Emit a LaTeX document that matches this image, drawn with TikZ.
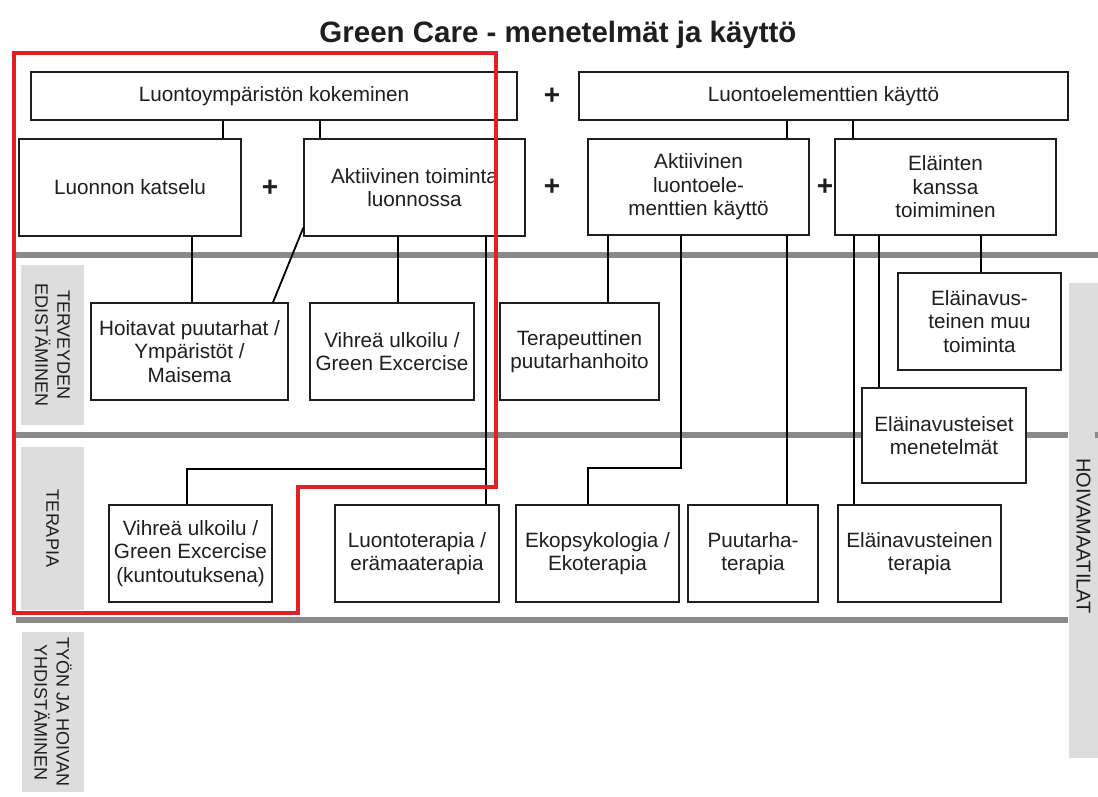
\documentclass[tikz,border=0pt]{standalone}
\usepackage{fontspec}
\setmainfont{Liberation Sans}
\usetikzlibrary{calc}
\definecolor{bandgray}{RGB}{138,138,138}
\definecolor{labgray}{RGB}{221,221,221}
\definecolor{redline}{RGB}{226,30,38}
\definecolor{ink}{RGB}{30,30,30}
\begin{document}
\begin{tikzpicture}[x=1pt,y=-1pt,
  box/.style={draw=ink, line width=1.3pt, fill=white, align=center, inner sep=2pt,
              font=\fontsize{20.7}{23.5}\selectfont, text=ink},
  conn/.style={draw=black, line width=1.8pt},
  band/.style={draw=bandgray, line width=6pt},
  sidelab/.style={fill=labgray, rotate=-90, align=center, inner sep=0pt,
                  font=\fontsize{18}{22}\selectfont, text=ink},
  plussign/.style={font=\bfseries\fontsize{28}{28}\selectfont, text=ink},
  redframe/.style={draw=redline, line width=4pt, line join=miter}]

\useasboundingbox (0,0) rectangle (1098,796);
\fill[white] (0,0) rectangle (1098,796);

% title
\node[anchor=base, font=\bfseries\fontsize{29.5}{32}\selectfont, text=ink] (title) at (558,42)
  {Green Care - menetelmät ja käyttö};

% side labels
\node[sidelab, minimum width=160, minimum height=63] (s1) at (52.5,345) {TERVEYDEN\\EDISTÄMINEN};
\node[sidelab, minimum width=163, minimum height=63] (s2) at (52.5,528.5) {TERAPIA};
\node[sidelab, minimum width=160, minimum height=62] (s3) at (53,712) {TYÖN JA HOIVAN\\YHDISTÄMINEN};
\fill[labgray] (1069,283) rectangle (1098,758);
\node[rotate=-90, font=\fontsize{20}{22}\selectfont, text=ink] (s4) at (1083.5,536) {HOIVAMAATILAT};

% bands
\draw[band] (16,255) -- (1098,255);
\draw[band] (16,435) -- (1068,435);
\draw[band] (1095,435) -- (1098,435);
\draw[band] (16,620) -- (1068,620);

% x positions of connectors
\coordinate (k223) at (223,0);
\coordinate (k320) at (320,0);
\coordinate (k787) at (787,0);
\coordinate (k853) at (853,0);
\coordinate (k192) at (192,0);
\coordinate (k273) at (273,0);
\coordinate (k398) at (398,0);
\coordinate (k486) at (486,0);
\coordinate (k187) at (187,0);
\coordinate (k608) at (608,0);
\coordinate (k681) at (681,0);
\coordinate (k854) at (854,0);
\coordinate (k879) at (879,0);
\coordinate (k981) at (981,0);
\coordinate (j1) at (486,469);
\coordinate (j2) at (588,468);

% boxes
\node[box, minimum width=486, minimum height=48] (A) at (274,96) {Luontoympäristön kokeminen};
\node[box, minimum width=489, minimum height=48] (B) at (823.5,96) {Luontoelementtien käyttö};
\node[box, minimum width=222, minimum height=97] (C) at (130,187.5) {Luonnon katselu};
\node[box, minimum width=221, minimum height=97] (D) at (414.5,187.5) {Aktiivinen toiminta\\luonnossa};
\node[box, minimum width=221, minimum height=96] (E) at (698.5,187) {Aktiivinen\\luontoele-\\menttien käyttö};
\node[box, minimum width=221, minimum height=96] (F) at (945.5,187) {Eläinten\\kanssa\\toimiminen};
\node[box, minimum width=197, minimum height=97] (G) at (189.5,351.5) {Hoitavat puutarhat /\\Ympäristöt /\\Maisema};
\node[box, minimum width=164, minimum height=97] (H) at (392,351.5) {Vihreä ulkoilu /\\Green Excercise};
\node[box, minimum width=159, minimum height=97] (I) at (579.5,351.5) {Terapeuttinen\\puutarhanhoito};
\node[box, minimum width=163, minimum height=97] (J) at (979.5,321.5) {Eläinavus-\\teinen muu\\toiminta};
\node[box, minimum width=164, minimum height=95] (K) at (944,435.5) {Eläinavusteiset\\menetelmät};
\node[box, minimum width=163, minimum height=97] (L) at (190.5,553.5) {Vihreä ulkoilu /\\Green Excercise\\(kuntoutuksena)};
\node[box, minimum width=164, minimum height=97] (M) at (417,553.5) {Luontoterapia /\\erämaaterapia};
\node[box, minimum width=163, minimum height=97] (N) at (597.5,553.5) {Ekopsykologia /\\Ekoterapia};
\node[box, minimum width=130, minimum height=97] (O) at (753,553.5) {Puutarha-\\terapia};
\node[box, minimum width=163, minimum height=97] (P) at (919.5,553.5) {Eläinavusteinen\\terapia};

% plus signs
\node[plussign] (p1) at (552,96) {+};
\node[plussign] (p2) at (270,188) {+};
\node[plussign] (p3) at (552,187) {+};
\node[plussign] (p4) at (825,187) {+};

% connectors
\draw[conn] (A.south -| k223) -- (C.north -| k223);
\draw[conn] (A.south -| k320) -- (D.north -| k320);
\draw[conn] (B.south -| k787) -- (E.north -| k787);
\draw[conn] (B.south -| k853) -- (F.north -| k853);
\draw[conn] (C.south -| k192) -- (G.north -| k192);
\draw[conn] ($(D.south west)+(0,-9)$) -- (G.north -| k273);
\draw[conn] (D.south -| k398) -- (H.north -| k398);
\draw[conn] (D.south -| k486) -- (M.north -| k486);
\draw[conn] (j1) -| (L.north -| k187);
\draw[conn] (E.south -| k608) -- (I.north -| k608);
\draw[conn] (E.south -| k681) |- (j2) -- (N.north -| j2);
\draw[conn] (E.south -| k787) -- (O.north -| k787);
\draw[conn] (F.south -| k854) -- (P.north -| k854);
\draw[conn] (F.south -| k879) -- (K.north -| k879);
\draw[conn] (F.south -| k981) -- (J.north -| k981);

% red outline
\draw[redframe] (14,53) -- (496,53) -- (496,487) -- (298,487) -- (298,613) -- (14,613) -- cycle;
\end{tikzpicture}
\end{document}
